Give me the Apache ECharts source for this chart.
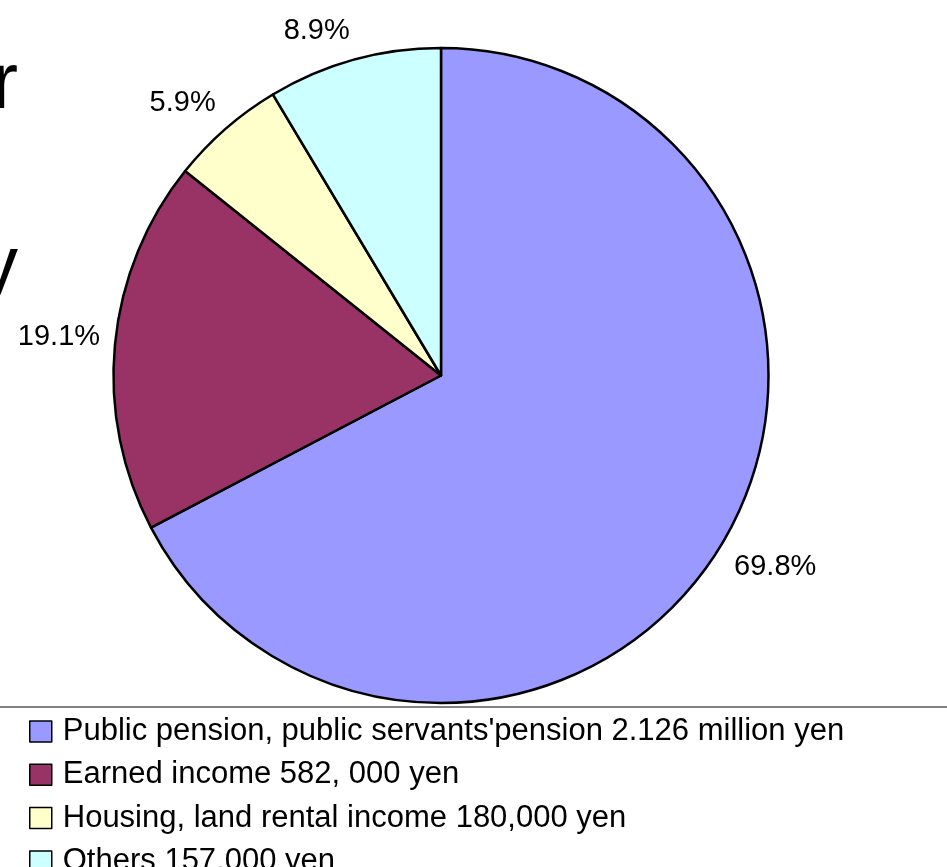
<!DOCTYPE html>
<html>
<head>
<meta charset="utf-8">
<script src="https://cdn.jsdelivr.net/npm/echarts@6/dist/echarts.min.js"></script>
<style>
html,body{margin:0;padding:0;background:#fff;overflow:hidden;}
#chart{width:947px;height:940px;}
</style>
</head>
<body>
<div id="chart"></div>
<script>
// Data
const categories = [
  "Public pension, public servants'pension 2.126 million yen",
  "Earned income 582, 000 yen",
  "Housing, land rental income 180,000 yen",
  "Others 157,000 yen"
];
const shares = [69.8, 19.1, 5.9, 8.9];
const colors = ['#9999FF', '#993366', '#FFFFCC', '#CCFFFF'];
const titleFragments = ['r', 'y'];

const CX = 441, CY = 375.5, R = 327.5, GAP = 15;
const FONT = '"Liberation Sans", Arial, sans-serif';

function clamp1(t) { return Math.max(-1, Math.min(1, t)); }

const chart = echarts.init(document.getElementById('chart'), null, {renderer: 'canvas'});
chart.setOption({
  backgroundColor: '#ffffff',
  animation: false,
  color: colors,
  graphic: [
    { type: 'line', shape: { x1: 0, y1: 707, x2: 947, y2: 707 }, style: { stroke: '#808080', lineWidth: 2 }, silent: true },
    { type: 'text', x: 18, y: 86, style: { text: titleFragments[0], font: '79px ' + FONT, fill: '#000', textAlign: 'right', textVerticalAlign: 'middle' } },
    { type: 'text', x: 18, y: 269, style: { text: titleFragments[1], font: '79px ' + FONT, fill: '#000', textAlign: 'right', textVerticalAlign: 'middle' } }
  ],
  legend: {
    orient: 'vertical',
    left: 29,
    top: 716,
    height: 220,
    padding: 0,
    itemWidth: 22,
    itemHeight: 21,
    itemGap: 12.3,
    icon: 'rect',
    selectedMode: false,
    itemStyle: { borderColor: '#000', borderWidth: 1.5 },
    textStyle: { fontFamily: FONT, fontSize: 31, color: '#000', lineHeight: 30, padding: [0, 0, 0, 6] },
    data: categories
  },
  series: [{
    type: 'pie',
    center: [CX, CY],
    radius: [0, R],
    startAngle: 90,
    clockwise: true,
    silent: true,
    avoidLabelOverlap: false,
    itemStyle: { borderColor: '#000', borderWidth: 2.5 },
    label: {
      show: true,
      position: 'inside',
      formatter: '{c}%',
      color: '#000',
      fontFamily: FONT,
      fontSize: 29
    },
    labelLine: { show: false },
    labelLayout: function (p) {
      const r = p.labelRect;
      const lx = r.x + r.width / 2, ly = r.y + r.height / 2;
      let ux = lx - CX, uy = ly - CY;
      const len = Math.hypot(ux, uy) || 1;
      ux /= len; uy /= len;
      const px = CX + ux * (R + GAP), py = CY + uy * (R + GAP);
      return {
        x: px + clamp1(ux / 0.25) * r.width / 2,
        y: py + clamp1(uy / 0.25) * r.height / 2,
        align: 'center',
        verticalAlign: 'middle'
      };
    },
    data: categories.map((c, i) => ({ name: c, value: shares[i] }))
  }]
});
</script>
</body>
</html>
